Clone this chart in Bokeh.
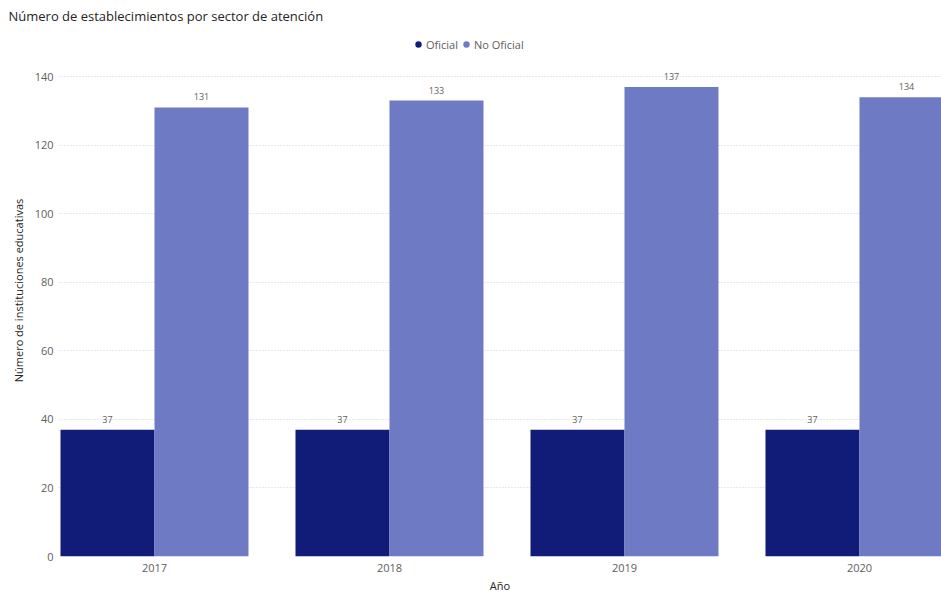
from bokeh.plotting import figure
from bokeh.models import ColumnDataSource, Range1d, FixedTicker, Legend, LegendItem, LabelSet
from bokeh.core.properties import value
from bokeh.embed import file_html
from bokeh.resources import INLINE
import numpy as np

years = ["2017", "2018", "2019", "2020"]
oficial = [37, 37, 37, 37]
no_oficial = [131, 133, 137, 134]
y_ticks = [0, 20, 40, 60, 80, 100, 120, 140]

C_OF = "#111C78"
C_NO = "#6F7AC5"
FONT = "Open Sans"
GRAY = "#605E5C"

pos = np.arange(len(years))
src_of = ColumnDataSource(dict(x=pos - 0.2, top=oficial, lab=[str(v) for v in oficial]))
src_no = ColumnDataSource(dict(x=pos + 0.2, top=no_oficial, lab=[str(v) for v in no_oficial]))

p = figure(width=941, height=596, output_backend="svg", toolbar_location=None,
           x_range=Range1d(-0.4085, 3.349), y_range=Range1d(0, 155.2),
           min_border_left=58, min_border_right=0, min_border_top=24, min_border_bottom=40)

p.title.text = "Número de establecimientos por sector de atención"
p.title.text_font = FONT
p.title.text_font_size = "13px"
p.title.text_font_style = "normal"
p.title.text_color = "#252423"
p.title.offset = -50
p.title.standoff = 0

p.vbar(x="x", top="top", width=0.4, source=src_of, fill_color=C_OF, line_color=None)
p.vbar(x="x", top="top", width=0.4, source=src_no, fill_color=C_NO, line_color=None)

for src in (src_of, src_no):
    ls = LabelSet(x="x", y="top", text="lab", source=src, text_align="center",
                  text_baseline="bottom", y_offset=7, text_font=value(FONT),
                  text_font_size=value("9px"), text_color=GRAY)
    p.add_layout(ls)

r1 = p.scatter(x=[-10], y=[-10], marker="circle", size=8, fill_color=C_OF, line_color=None)
r2 = p.scatter(x=[-10], y=[-10], marker="circle", size=8, fill_color=C_NO, line_color=None)
legend = Legend(items=[LegendItem(label="Oficial", renderers=[r1]),
                       LegendItem(label="No Oficial", renderers=[r2])],
                orientation="horizontal", location=(352, 504),
                label_text_font=FONT, label_text_font_size="11px", label_text_color=GRAY,
                glyph_width=16, glyph_height=16, label_standoff=0, spacing=0,
                padding=2, margin=0, border_line_color=None, background_fill_alpha=0,
                label_height=12)
p.add_layout(legend, "center")

p.xaxis.ticker = FixedTicker(ticks=list(pos))
p.xaxis.major_label_overrides = {int(i): y for i, y in zip(pos, years)}
p.yaxis.ticker = FixedTicker(ticks=y_ticks)

p.xaxis.axis_label = "Año"
p.yaxis.axis_label = "Número de instituciones educativas"
for ax in (p.xaxis, p.yaxis):
    ax.axis_line_color = None
    ax.major_tick_line_color = None
    ax.minor_tick_line_color = None
    ax.major_tick_out = 0
    ax.major_tick_in = 0
    ax.minor_tick_out = 0
    ax.major_label_text_font = FONT
    ax.major_label_text_font_size = "11px"
    ax.major_label_text_color = GRAY
    ax.axis_label_text_font = FONT
    ax.axis_label_text_font_size = "11px"
    ax.axis_label_text_font_style = "normal"
    ax.axis_label_text_color = "#252423"
p.xaxis.major_label_standoff = 7
p.xaxis.axis_label_standoff = 3
p.yaxis.major_label_standoff = 5
p.yaxis.axis_label_standoff = 6

p.xgrid.grid_line_color = None
p.ygrid.grid_line_color = "#D0D0D0"
p.ygrid.grid_line_dash = "1 2"
p.outline_line_color = None

open("out.html", "w").write(file_html(p, INLINE))
